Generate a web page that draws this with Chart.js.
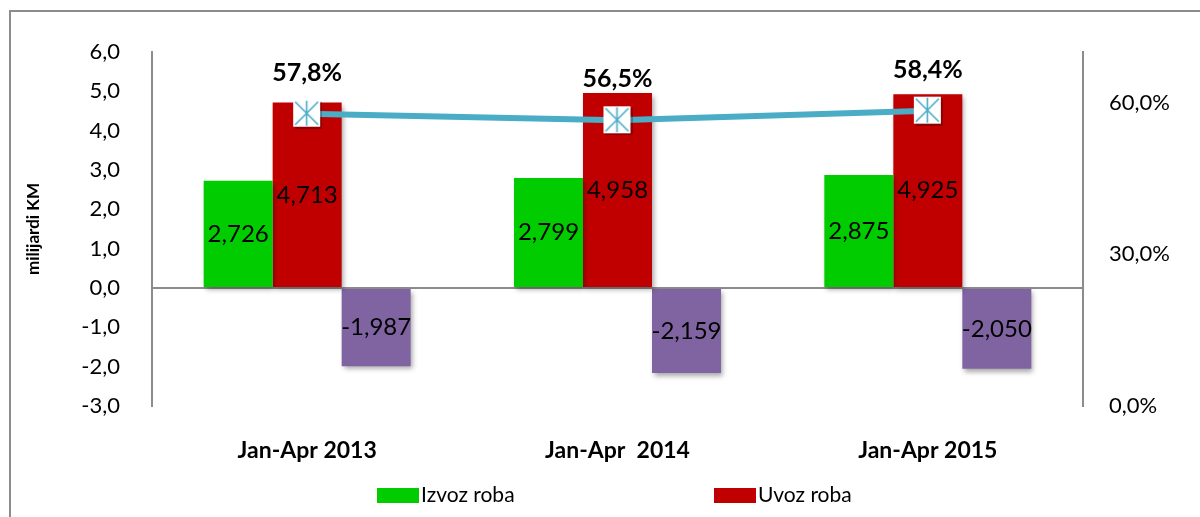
<!DOCTYPE html>
<html>
<head>
<meta charset="utf-8">
<script src="https://cdn.jsdelivr.net/npm/chart.js@4"></script>
<style>
  html, body { margin: 0; padding: 0; background: #fff; }
  #wrap { width: 1200px; height: 517px; }
</style>
</head>
<body>
<div id="wrap"><canvas id="chart" width="1200" height="517"></canvas></div>
<script>
// chart data
const categories = ['Jan-Apr 2013', 'Jan-Apr  2014', 'Jan-Apr 2015'];
const izvoz = [2.726, 2.799, 2.875];
const uvoz = [4.713, 4.958, 4.925];
const saldo = [-1.987, -2.159, -2.050];
const pokrivenost = [0.578, 0.565, 0.584];
const leftTicks = [-3, -2, -1, 0, 1, 2, 3, 4, 5, 6];
const rightTicks = [0, 0.3, 0.6];

const FONT = 'Lato, "Liberation Sans", sans-serif';
const lineColor = '#4BACC6';

// white square marker with an asterisk, like the Excel one
function makeMarker() {
  const c = document.createElement('canvas');
  c.width = 30; c.height = 30;
  const g = c.getContext('2d');
  g.fillStyle = 'rgba(0,0,0,0.25)';
  g.fillRect(3, 3, 27, 27);
  g.fillStyle = '#fff';
  g.fillRect(1, 1, 27, 27);
  g.strokeStyle = lineColor;
  g.lineWidth = 1.6;
  g.beginPath();
  g.moveTo(14.5, 2); g.lineTo(14.5, 27);
  g.moveTo(3, 3); g.lineTo(26, 26);
  g.moveTo(26, 3); g.lineTo(3, 26);
  g.stroke();
  return c;
}

const fmtNum = (v) => v.toFixed(3).replace('.', ',');
const fmtPct = (v) => (v * 100).toFixed(1).replace('.', ',') + '%';

const frame = {
  id: 'frame',
  beforeDraw(chart) {
    const ctx = chart.ctx;
    ctx.save();
    ctx.strokeStyle = '#8c8c8c';
    ctx.lineWidth = 2;
    ctx.beginPath();
    ctx.moveTo(10, 520);
    ctx.lineTo(10, 11);
    ctx.lineTo(1200, 11);
    ctx.stroke();
    ctx.restore();
  }
};

const barShadow = {
  id: 'barShadow',
  beforeDatasetDraw(chart, args) {
    const ctx = chart.ctx;
    ctx.save();
    if (chart.data.datasets[args.index].type === 'bar') {
      ctx.shadowColor = 'rgba(0,0,0,0.35)';
      ctx.shadowBlur = 5;
      ctx.shadowOffsetX = 2;
      ctx.shadowOffsetY = 3;
    }
  },
  afterDatasetDraw(chart) {
    chart.ctx.restore();
  }
};

const valueLabels = {
  id: 'valueLabels',
  afterDatasetsDraw(chart) {
    const ctx = chart.ctx;
    ctx.save();
    ctx.fillStyle = '#000';
    ctx.textAlign = 'center';
    ctx.textBaseline = 'middle';
    chart.data.datasets.forEach((ds, i) => {
      const meta = chart.getDatasetMeta(i);
      meta.data.forEach((el, j) => {
        if (ds.type === 'bar') {
          ctx.font = '24px ' + FONT;
          ctx.fillText(fmtNum(ds.data[j]), el.x, (el.y + el.base) / 2);
        } else {
          ctx.font = 'bold 25px ' + FONT;
          ctx.fillText(fmtPct(ds.data[j]), el.x, el.y - 41);
        }
      });
    });
    ctx.restore();
  }
};

const bottomLegend = {
  id: 'bottomLegend',
  afterDraw(chart) {
    const ctx = chart.ctx;
    const items = [
      { ds: 1, x: 377 },
      { ds: 2, x: 714 }
    ];
    ctx.save();
    ctx.font = '21px ' + FONT;
    ctx.textBaseline = 'middle';
    ctx.textAlign = 'left';
    items.forEach((it) => {
      const ds = chart.data.datasets[it.ds];
      ctx.fillStyle = ds.backgroundColor;
      ctx.fillRect(it.x, 488, 42, 15);
      ctx.fillStyle = '#000';
      ctx.fillText(ds.label, it.x + 44, 495);
    });
    ctx.restore();
  }
};

new Chart(document.getElementById('chart'), {
  data: {
    labels: categories,
    datasets: [
      {
        type: 'line',
        label: 'Pokrivenost uvoza izvozom',
        data: pokrivenost,
        yAxisID: 'y1',
        borderColor: lineColor,
        borderWidth: 6,
        pointStyle: makeMarker(),
        pointRadius: 14,
        tension: 0,
        order: 0
      },
      {
        type: 'bar',
        label: 'Izvoz roba',
        data: izvoz,
        yAxisID: 'y',
        backgroundColor: '#00CC00',
        order: 1
      },
      {
        type: 'bar',
        label: 'Uvoz roba',
        data: uvoz,
        yAxisID: 'y',
        backgroundColor: '#C00000',
        order: 1
      },
      {
        type: 'bar',
        label: 'Saldo',
        data: saldo,
        yAxisID: 'y',
        backgroundColor: '#8064A2',
        order: 1
      }
    ]
  },
  options: {
    responsive: false,
    animation: false,
    layout: { padding: { left: 10, top: 52, right: 0, bottom: 0 } },
    datasets: {
      bar: { categoryPercentage: 0.667, barPercentage: 1 }
    },
    plugins: {
      legend: { display: false },
      tooltip: { enabled: false }
    },
    scales: {
      x: {
        grid: { display: false },
        border: { display: false },
        ticks: {
          color: '#000',
          padding: 23,
          font: { family: FONT, size: 23, weight: 'bold' }
        },
        afterFit: (s) => { s.height = 111; }
      },
      y: {
        position: 'left',
        min: -3,
        max: 6,
        afterBuildTicks: (s) => { s.ticks = leftTicks.map((v) => ({ value: v })); },
        grid: {
          drawTicks: false,
          lineWidth: 2,
          color: (c) => (c.tick && c.tick.value === 0 ? '#8c8c8c' : 'rgba(0,0,0,0)')
        },
        border: { display: true, color: '#8c8c8c', width: 2 },
        ticks: {
          color: '#000',
          padding: 32,
          font: { family: FONT, size: 22 },
          callback: (v) => v.toFixed(1).replace('.', ',')
        },
        title: {
          display: true,
          text: 'milijardi KM',
          color: '#000',
          padding: { top: 13, bottom: 0 },
          font: { family: FONT, size: 17, weight: 'bold' }
        },
        afterFit: (s) => { s.width = 142; }
      },
      y1: {
        position: 'right',
        min: 0,
        max: 0.7,
        afterBuildTicks: (s) => { s.ticks = rightTicks.map((v) => ({ value: v })); },
        grid: { display: false, drawTicks: false },
        border: { display: true, color: '#8c8c8c', width: 2 },
        ticks: {
          color: '#000',
          padding: 26,
          font: { family: FONT, size: 22 },
          callback: (v) => (v * 100).toFixed(1).replace('.', ',') + '%'
        },
        afterFit: (s) => { s.width = 117; }
      }
    }
  },
  plugins: [frame, barShadow, valueLabels, bottomLegend]
});
</script>
</body>
</html>
